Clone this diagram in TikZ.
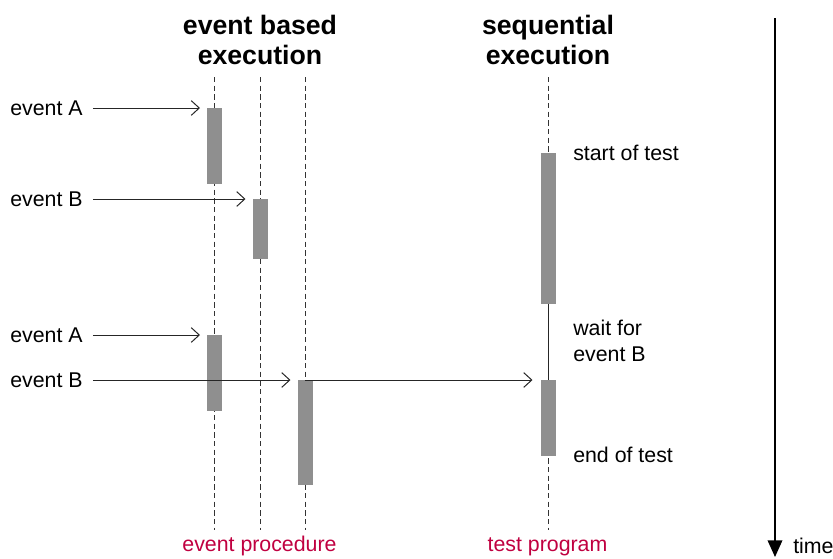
\documentclass[tikz,border=0pt]{standalone}
\usepackage{fontspec}
\setmainfont{Liberation Sans}
\usetikzlibrary{arrows.meta}
\definecolor{actgray}{RGB}{143,143,143}
\definecolor{capred}{RGB}{192,0,64}
\tikzset{
  actbox/.style={draw=none, fill=actgray, minimum width=11.25pt, inner sep=0pt, outer sep=0pt},
  lifeline/.style={dashed, dash pattern=on 4pt off 2.5pt, line width=0.75pt, black!80},
  msg/.style={line width=0.75pt, black!85, -{Straight Barb[length=6pt, width=11pt, line width=0.75pt]}},
  lbl/.style={font=\fontsize{16pt}{19pt}\selectfont, inner sep=0pt, anchor=west},
  ttl/.style={font=\fontsize{20pt}{22.5pt}\selectfont\bfseries, align=center, inner sep=0pt},
  captxt/.style={font=\fontsize{16pt}{19pt}\selectfont, text=capred, inner sep=0pt, anchor=base},
}
\begin{document}
\begin{tikzpicture}[x=0.75pt, y=-0.75pt]
\useasboundingbox (0,0) rectangle (833,558);

% titles
\node[ttl] (t-ev) at (260,40) {event based\\execution};
\node[ttl] (t-sq) at (548,40) {sequential\\execution};

% lifelines
\coordinate (l1t) at (214,77); \coordinate (l1b) at (214,530);
\coordinate (l2t) at (260,77); \coordinate (l2b) at (260,530);
\coordinate (l3t) at (305,77); \coordinate (l3b) at (305,530);
\coordinate (l4t) at (548,77); \coordinate (l4b) at (548,530);
\draw[lifeline] (l1t) -- (l1b);
\draw[lifeline] (l2t) -- (l2b);
\draw[lifeline] (l3t) -- (l3b);
\draw[lifeline] (l4t) -- (l4b);

% activation bars
\node[actbox, minimum height=57pt]    (a1) at (214.5,146) {};
\node[actbox, minimum height=45pt]    (b1) at (260,229) {};
\node[actbox, minimum height=57pt]    (a2) at (214.5,373) {};
\node[actbox, minimum height=78.75pt] (b2) at (305,432.5) {};
\node[actbox, minimum height=113.25pt](p1) at (548,228.5) {};
\node[actbox, minimum height=57pt]    (p2) at (548,418) {};

% waiting phase of the test program
\draw[line width=0.75pt, black!85] (p1.south) -- (p2.north);

% event labels
\node[lbl] (ea1) at (10,108) {event A};
\node[lbl] (eb1) at (10,199) {event B};
\node[lbl] (ea2) at (10,335) {event A};
\node[lbl] (eb2) at (10,380) {event B};

% event messages
\draw[msg, shorten <=7.5pt, shorten >=5.25pt] (ea1.east) -- (ea1.east -| a1.west);
\draw[msg, shorten <=7.5pt, shorten >=5.25pt] (eb1.east) -- (eb1.east -| b1.west);
\draw[msg, shorten <=7.5pt, shorten >=5.25pt] (ea2.east) -- (ea2.east -| a2.west);
\draw[msg, shorten <=7.5pt, shorten >=5.25pt] (eb2.east) -- (eb2.east -| b2.west);
\draw[msg, shorten <=5.25pt, shorten >=6pt] (eb2.east -| b2.west) -- (eb2.east -| p2.west);

% test program notes
\node[lbl] (n1) at (573,153) {start of test};
\node[lbl, align=left, font=\fontsize{16pt}{19.5pt}\selectfont] (n2) at (573,341) {wait for\\event B};
\node[lbl] (n3) at (573,455) {end of test};

% captions
\node[captxt] (c1) at (259.5,551) {event procedure};
\node[captxt] (c2) at (547.5,551) {test program};

% time axis
\coordinate (tt) at (775,18);
\coordinate (tb) at (775,557);
\draw[line width=1pt, -{Triangle[length=12.5pt, width=11pt]}] (tt) -- (tb);
\node[lbl] (tm) at (793,546) {time};
\end{tikzpicture}
\end{document}
